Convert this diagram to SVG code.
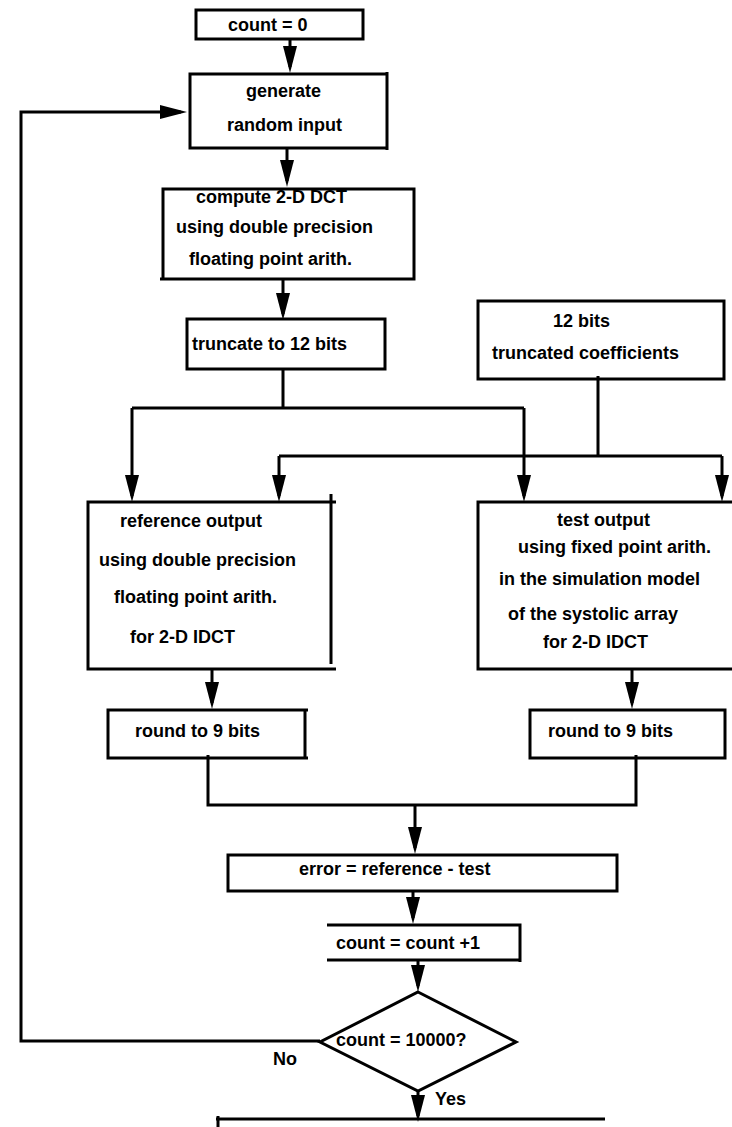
<svg xmlns="http://www.w3.org/2000/svg" width="732" height="1127" viewBox="0 0 732 1127">
  <style>
    .box { fill: none; stroke: #000; stroke-width: 3; }
    .wire { fill: none; stroke: #000; stroke-width: 3; }
    .arrow { fill: none; stroke: #000; stroke-width: 3; marker-end: url(#head); }
    text { font-family: "Liberation Sans", Arial, Helvetica, sans-serif; font-size: 18px; font-weight: bold; fill: #000; }
  </style>
  <defs>
    <marker id="head" markerUnits="userSpaceOnUse" markerWidth="28" markerHeight="14" refX="21" refY="7" orient="auto">
      <path d="M0,0 L27,7 L0,14 Z" fill="#000"/>
    </marker>
  </defs>
  <rect width="732" height="1127" fill="#fff"/>

  <!-- connectors -->
  <g id="connectors">
    <path class="arrow" d="M290,39 V67"/>
    <path class="arrow" d="M320,1041 H21 V112 H181"/>
    <path class="arrow" d="M287,148 V181"/>
    <path class="arrow" d="M283,279 V314"/>
    <path class="wire" d="M283,369 V408 M132,408 H524"/>
    <path class="arrow" d="M132,408 V496"/>
    <path class="arrow" d="M524,408 V496"/>
    <path class="wire" d="M598,376 V456 M279,456 H722"/>
    <path class="arrow" d="M279,456 V496"/>
    <path class="arrow" d="M722,456 V496"/>
    <path class="arrow" d="M212,669 V703"/>
    <path class="arrow" d="M632,669 V703"/>
    <path class="wire" d="M208,755 V805 H636 V755"/>
    <path class="arrow" d="M415,805 V848"/>
    <path class="arrow" d="M413,891 V918"/>
    <path class="arrow" d="M418,960 V986"/>
    <path class="arrow" d="M418,1091 V1116"/>
  </g>

  <g id="init">
    <rect class="box" x="196" y="10" width="167" height="29"/>
    <text x="228" y="31">count = 0</text>
  </g>

  <g id="generate">
    <path class="box" d="M387,74 H190 V148 H387 M387,72 V150"/>
    <text x="246" y="97">generate</text>
    <text x="227" y="131">random input</text>
  </g>

  <g id="dct">
    <path class="box" d="M163,279 V189 H414 V279 H160"/>
    <text x="196" y="203">compute 2-D DCT</text>
    <text x="176" y="233">using double precision</text>
    <text x="189" y="265">floating point arith.</text>
  </g>

  <g id="truncate">
    <rect class="box" x="187" y="319" width="198" height="50"/>
    <text x="192" y="350">truncate to 12 bits</text>
  </g>

  <g id="coefficients">
    <rect class="box" x="478" y="301" width="246" height="78"/>
    <text x="553" y="327">12 bits</text>
    <text x="492" y="359">truncated coefficients</text>
  </g>

  <g id="reference">
    <path class="box" d="M336,502 H88 V669 H336 M331,494 V664"/>
    <text x="120" y="527">reference output</text>
    <text x="99" y="566">using double precision</text>
    <text x="114" y="603">floating point arith.</text>
    <text x="130" y="643">for 2-D IDCT</text>
  </g>

  <g id="test">
    <path class="box" d="M740,502 H478 V669 H740"/>
    <text x="557" y="526">test output</text>
    <text x="518" y="553">using fixed point arith.</text>
    <text x="499" y="585">in the simulation model</text>
    <text x="508" y="620">of the systolic array</text>
    <text x="543" y="648">for 2-D IDCT</text>
  </g>

  <g id="round-ref">
    <path class="box" d="M308,710 H108 V758 H308 M305,710 V758"/>
    <text x="135" y="737">round to 9 bits</text>
  </g>

  <g id="round-test">
    <rect class="box" x="530" y="710" width="195" height="48"/>
    <text x="548" y="737">round to 9 bits</text>
  </g>

  <g id="error">
    <rect class="box" x="228" y="855" width="389" height="36"/>
    <text x="299" y="875">error = reference - test</text>
  </g>

  <g id="increment">
    <path class="box" d="M327,925 H520 V962 M520,960 H327 Z"/>
    <text x="336" y="949">count = count +1</text>
  </g>

  <g id="decision">
    <polygon class="box" points="418,992 516,1042 418,1091 320,1042"/>
    <text x="336" y="1046">count = 10000?</text>
    <text x="273" y="1065">No</text>
    <text x="435" y="1105">Yes</text>
  </g>

  <g id="result">
    <path class="box" d="M218,1130 V1116 M216,1119 H605"/>
  </g>
</svg>
